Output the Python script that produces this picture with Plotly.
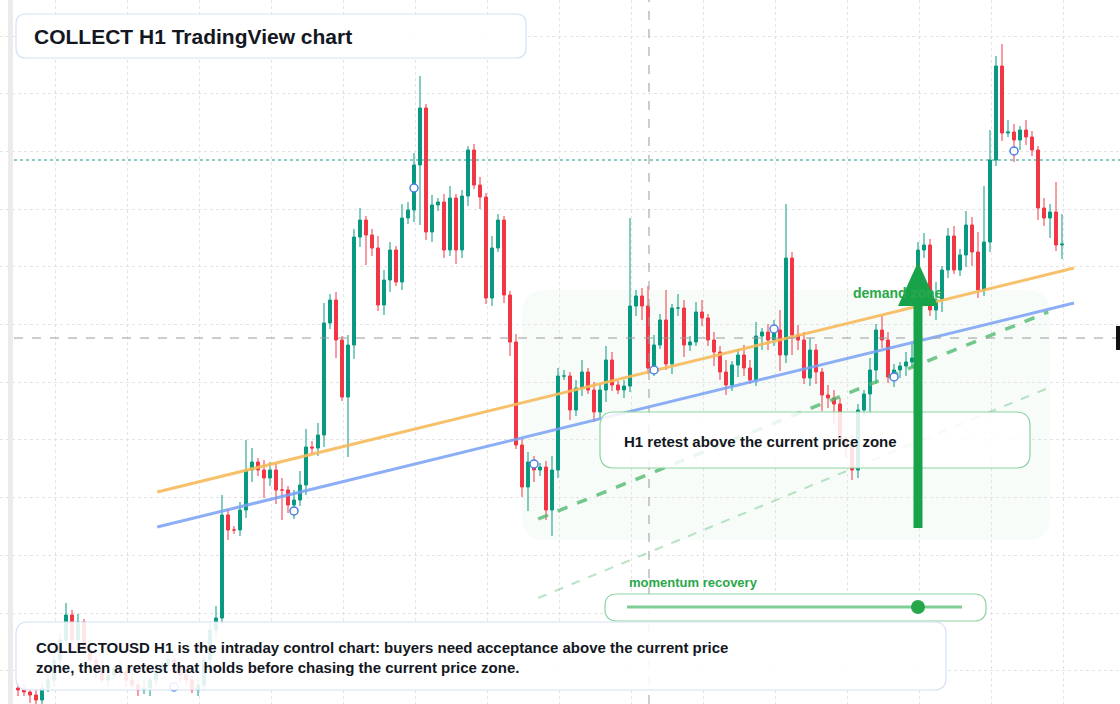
import plotly.graph_objects as go

# closes (price units = 704 - pixel row)
close_px = [
    690, 692, 695, 700, 688, 680, 660, 640, 615, 640, 622,
    650, 660, 670, 680, 675, 668, 672, 680, 685, 690, 688, 680, 670, 665, 660, 668, 675, 680, 690, 685,
    660, 630, 618, 515, 530, 530, 510, 470, 462, 470, 478, 470, 490, 490, 505, 500, 485,
    447, 448, 435, 323, 300, 340, 397, 345, 237, 220, 235, 248, 305, 280, 250, 282, 218,
    210, 165, 108, 232, 205, 202, 250, 198, 250, 196, 150, 185, 197, 298, 248, 220, 295,
    342, 445, 487, 462, 470, 467, 510, 470, 376, 376, 410, 388, 372, 390, 412, 390, 360,
    385, 390, 386, 306, 296, 306, 368, 345, 320, 364, 308, 308, 345, 342, 312, 318, 340,
    352, 372, 385, 365, 355, 368, 380, 336, 332, 340, 330, 355, 258, 335, 340, 378, 350,
    372, 395, 398, 404, 440, 445, 470, 410, 394, 370, 330, 340, 377, 370, 366, 362, 358,
    250, 245, 310, 300, 270, 236, 270, 255, 225, 252, 290, 242, 160, 66, 133, 132, 140,
    130, 137, 150, 208, 218, 212, 245, 244, 195, 160,
]
first_open_px = 688
upper_wick = [
    4, 6, 3, 8, 5, 10, 4, 6, 12, 5, 8, 3, 6, 4, 9, 5, 3, 7, 4, 6, 5, 8, 3, 6, 4, 7, 5, 3, 6, 4, 8,
    5, 7, 12, 20, 6, 4, 8, 30, 14, 4, 10, 8, 6, 12, 4, 10, 14, 18, 6, 12, 20, 6, 8, 4, 10, 8, 12, 4,
    6, 12, 10, 8, 4, 14, 8, 12, 32, 4, 10, 4, 8, 12, 4, 6, 4, 6, 8, 4, 12, 6, 4, 4, 8, 6, 10, 6, 4,
    6, 14, 8, 6, 4, 8, 12, 4, 8, 6, 14, 8, 4, 6, 88, 6, 8, 20, 10, 6, 30, 4, 14, 8, 6, 10, 12, 4, 8,
    6, 12, 4, 6, 10, 8, 14, 4, 8, 10, 20, 54, 6, 10, 8, 12, 6, 4, 10, 8, 6, 4, 10, 6, 4, 12, 6, 14,
    8, 6, 4, 10, 14, 8, 12, 6, 18, 4, 8, 10, 6, 14, 8, 20, 56, 30, 10, 22, 12, 8, 4, 10, 6, 4, 10, 8,
    30, 30,
]
lower_wick = [
    6, 4, 8, 5, 10, 4, 6, 8, 5, 12, 4, 6, 5, 8, 3, 6, 4, 5, 7, 3, 6, 4, 8, 5, 3, 6, 4, 8, 5, 3, 6,
    4, 6, 8, 6, 10, 4, 6, 8, 12, 6, 20, 8, 14, 30, 8, 14, 6, 10, 6, 8, 12, 6, 18, 4, 60, 14, 10, 30,
    8, 6, 10, 12, 4, 8, 6, 12, 60, 8, 10, 6, 8, 6, 14, 8, 10, 4, 12, 6, 8, 4, 8, 14, 4, 10, 24, 12,
    6, 10, 26, 8, 4, 10, 6, 8, 4, 10, 6, 12, 6, 4, 8, 6, 10, 14, 6, 8, 4, 6, 10, 8, 12, 6, 4, 8, 6,
    14, 8, 10, 6, 12, 8, 4, 6, 14, 10, 6, 16, 8, 20, 10, 6, 8, 12, 16, 10, 20, 8, 12, 10, 8, 6, 20,
    14, 8, 6, 10, 8, 10, 6, 14, 8, 6, 10, 12, 8, 4, 6, 12, 14, 8, 6, 10, 6, 8, 4, 22, 10, 8, 6, 12,
    8, 20, 6, 14, 20, 26, 10,
]

# annotation geometry (candle index, price)
orange_line = ([23.2, 176], [212, 436])
blue_line = ([23.2, 176], [177, 401])
green_dash = ([86.7, 171.7], [185, 392])
green_dash_light = ([86.7, 171.7], [106, 316])
marker_idx = [26, 46, 66, 86, 106, 126, 146, 166]
marker_price = [17, 193, 516, 240, 334, 375, 327, 553]

n = len(close_px)
x = list(range(n))
close = [704 - c for c in close_px]
opens = [704 - first_open_px] + close[:-1]
high = [max(o, c) + w for o, c, w in zip(opens, close, upper_wick)]
low = [min(o, c) - w for o, c, w in zip(opens, close, lower_wick)]

W, H = 1120, 704
def px(v): return v / W
def py(v): return 1 - v / H


def rounded_box(x0, y0, x1, y1, r, fill, line_color, layer="above"):
    # pixel coords -> paper-space path with rounded corners
    rx, ry = r / W, r / H
    a, b, c, d = px(x0), py(y1), px(x1), py(y0)  # left, bottom, right, top
    path = (f"M {a+rx},{b} L {c-rx},{b} Q {c},{b} {c},{b+ry} L {c},{d-ry} Q {c},{d} {c-rx},{d} "
            f"L {a+rx},{d} Q {a},{d} {a},{d-ry} L {a},{b+ry} Q {a},{b} {a+rx},{b} Z")
    return dict(type="path", xref="paper", yref="paper", path=path, fillcolor=fill, layer=layer,
                line=dict(color=line_color, width=1.2 if line_color else 0))


fig = go.Figure()
fig.add_trace(go.Candlestick(
    x=x, open=opens, high=high, low=low, close=close,
    increasing=dict(line=dict(color="#089981", width=1), fillcolor="#089981"),
    decreasing=dict(line=dict(color="#f23645", width=1), fillcolor="#f23645"),
    whiskerwidth=0, showlegend=False, hoverinfo="skip"))

fig.add_trace(go.Scatter(x=orange_line[0], y=orange_line[1], mode="lines",
                         line=dict(color="rgba(246,185,90,0.9)", width=3), showlegend=False))
fig.add_trace(go.Scatter(x=blue_line[0], y=blue_line[1], mode="lines",
                         line=dict(color="rgba(120,160,245,0.85)", width=3), showlegend=False))
fig.add_trace(go.Scatter(x=green_dash[0], y=green_dash[1], mode="lines",
                         line=dict(color="rgba(80,185,110,0.8)", width=3.5, dash="dash"), showlegend=False))
fig.add_trace(go.Scatter(x=green_dash_light[0], y=green_dash_light[1], mode="lines",
                         line=dict(color="rgba(80,185,110,0.4)", width=2, dash="dash"), showlegend=False))
fig.add_trace(go.Scatter(x=marker_idx, y=marker_price, mode="markers",
                         marker=dict(symbol="circle", size=8, color="white",
                                     line=dict(color="#4a7de8", width=1.5)), showlegend=False))

shapes = [
    # demand zone background
    rounded_box(522, 290, 1050, 540, 24, "rgba(120,200,130,0.06)", None, layer="below"),
    # left edge bar
    dict(type="rect", xref="paper", yref="paper", x0=px(8), x1=px(13), y0=0, y1=1,
         fillcolor="#ebebeb", line=dict(width=0)),
    # crosshair
    dict(type="line", xref="paper", yref="paper", x0=px(649), x1=px(649), y0=0, y1=1,
         line=dict(color="#9a9a9a", width=1, dash="dash")),
    dict(type="line", xref="paper", yref="paper", x0=px(14), x1=1, y0=py(338), y1=py(338),
         line=dict(color="#9a9a9a", width=1, dash="dash")),
    dict(type="line", xref="paper", yref="paper", x0=px(14), x1=1, y0=py(160), y1=py(160),
         line=dict(color="#1a9a8a", width=1, dash="dot")),
    dict(type="rect", xref="paper", yref="paper", x0=px(1116), x1=px(1126), y0=py(350), y1=py(326),
         fillcolor="#111", line=dict(width=0)),
    rounded_box(16, 14, 526, 58, 10, "rgba(255,255,255,0.92)", "#d4e0f7"),
    rounded_box(600, 412, 1030, 468, 14, "rgba(255,255,255,0.85)", "#8fd3a0"),
    rounded_box(605, 594, 986, 621, 12, "rgba(255,255,255,0.9)", "#8fd3a0"),
    dict(type="line", xref="paper", yref="paper", x0=px(627), x1=px(962), y0=py(607), y1=py(607),
         line=dict(color="#7fcf95", width=3)),
    dict(type="circle", xref="paper", yref="paper", x0=px(911), x1=px(925), y0=py(614), y1=py(600),
         fillcolor="#27a74a", line=dict(width=0)),
    rounded_box(16, 622, 946, 690, 12, "rgba(255,255,255,0.88)", "#d4e0f7"),
    # arrow
    dict(type="line", xref="paper", yref="paper", x0=px(918), x1=px(918), y0=py(528), y1=py(300),
         line=dict(color="#18a34a", width=9)),
    dict(type="path", xref="paper", yref="paper",
         path=f"M {px(898)},{py(306)} L {px(918)},{py(262)} L {px(938)},{py(306)} Z",
         fillcolor="#18a34a", line=dict(width=0)),
]

annotations = [
    dict(text="<b>COLLECT H1 TradingView chart</b>", xref="paper", yref="paper", x=px(32), y=py(36),
         xanchor="left", yanchor="middle", showarrow=False, font=dict(size=21, color="#131722")),
    dict(text="<b>demand zone</b>", xref="paper", yref="paper", x=px(851), y=py(293),
         xanchor="left", yanchor="middle", showarrow=False, font=dict(size=14, color="#2aa84a")),
    dict(text="<b>H1 retest above the current price zone</b>", xref="paper", yref="paper",
         x=px(622), y=py(441), xanchor="left", yanchor="middle", showarrow=False,
         font=dict(size=15, color="#131722")),
    dict(text="<b>momentum recovery</b>", xref="paper", yref="paper", x=px(627), y=py(582),
         xanchor="left", yanchor="middle", showarrow=False, font=dict(size=13, color="#2aa84a")),
    dict(text="<b>COLLECTOUSD H1 is the intraday control chart: buyers need acceptance above the current price<br>"
              "zone, then a retest that holds before chasing the current price zone.</b>",
         xref="paper", yref="paper", x=px(34), y=py(657), xanchor="left", yanchor="middle",
         align="left", showarrow=False, font=dict(size=15, color="#131722")),
]

fig.update_layout(
    width=W, height=H, margin=dict(l=0, r=0, t=0, b=0),
    paper_bgcolor="white", plot_bgcolor="white",
    font=dict(family="Liberation Sans, Arial, sans-serif"),
    xaxis=dict(range=[-3, -3 + W / 6], showticklabels=False, zeroline=False,
               rangeslider=dict(visible=False), tick0=6.17, dtick=12,
               showgrid=True, gridcolor="#e3e3e3", griddash="dot"),
    yaxis=dict(range=[0, H], showticklabels=False, zeroline=False,
               tick0=33.3, dtick=57.7, showgrid=True, gridcolor="#e3e3e3", griddash="dot"),
    shapes=shapes, annotations=annotations,
)

fig.write_html("out.html", config={"displayModeBar": False},
               post_script="document.body.style.margin='0';")
